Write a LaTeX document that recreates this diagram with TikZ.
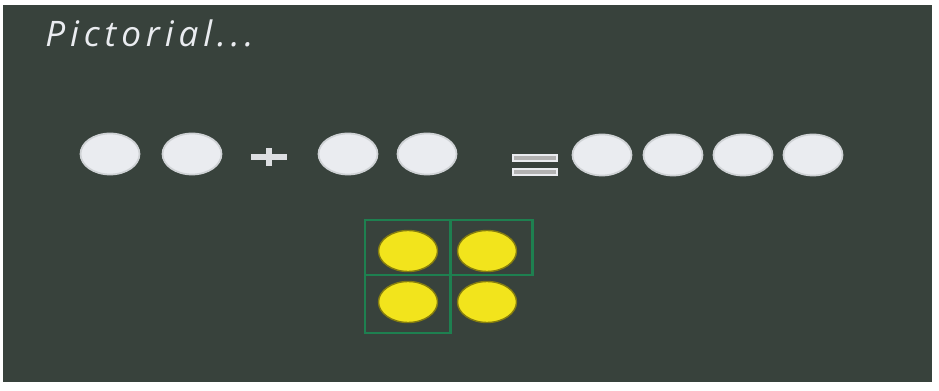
\documentclass[tikz,border=0pt]{standalone}
\usepackage{fontspec}
\newfontfamily\chalkfont[LetterSpace=14]{Open Sans}
\usepackage{tikz}
\usetikzlibrary{positioning, calc, shapes.geometric}
\definecolor{board}{RGB}{56,66,60}
\definecolor{chalk}{RGB}{234,236,240}
\definecolor{gridgreen}{RGB}{30,128,80}
\definecolor{dotyellow}{RGB}{242,228,28}

\begin{document}
\begin{tikzpicture}[
  x=0.02cm, y=-0.02cm,
  whitedot/.style={ellipse, fill=chalk, draw=chalk!85!board, line width=1pt, minimum width=1.18cm, minimum height=0.82cm, inner sep=0pt},
  yellowdot/.style={ellipse, fill=dotyellow, draw=dotyellow!55!black, line width=0.8pt, minimum width=1.18cm, minimum height=0.82cm, inner sep=0pt},
  cellbox/.style={draw=gridgreen, line width=1.7pt},
  bar/.style={fill=gray!60, draw=chalk, line width=0.8pt},
  plusbar/.style={draw=chalk!88!gray, line width=3.4pt},
]

  % board
  \useasboundingbox (0,0) rectangle (939,391);
  \fill[white] (0,0) rectangle (939,391);
  \fill[board] (3,5) rectangle (932,382);

  % title
  \node (title) [anchor=base west, text=chalk, font=\chalkfont\itshape\fontsize{20}{24}\selectfont, inner sep=0pt] at (45,47) {Pictorial...};

  % first addend, second addend, sum
  \foreach \i/\x in {1/110, 2/192} {
    \node (a\i) [whitedot] at (\x,154) {};
  }
  \foreach \i/\x in {1/348, 2/427} {
    \node (b\i) [whitedot] at (\x,154) {};
  }
  \foreach \i/\x in {1/602, 2/673, 3/743, 4/813} {
    \node (s\i) [whitedot] at (\x,155) {};
  }

  % plus and equals
  \coordinate (plus) at (269,157);
  \draw[plusbar] ($(plus)+(-18,0)$) -- ($(plus)+(18,0)$);
  \draw[plusbar] ($(plus)+(0,-9)$) -- ($(plus)+(0,9)$);
  \draw[bar] (513,155) rectangle (557,161);
  \draw[bar] (513,169) rectangle (557,175);

  % grid of cells
  \draw[cellbox] (365,220) rectangle (450,275);
  \draw[cellbox] (450,220) rectangle (532,275);
  \draw[cellbox] (365,275) rectangle (450,333);

  % yellow dots
  \node (y1) [yellowdot] at (408,251) {};
  \node (y2) [yellowdot] at (487,251) {};
  \node (y3) [yellowdot] at (408,302) {};
  \node (y4) [yellowdot] at (487,302) {};

\end{tikzpicture}
\end{document}
